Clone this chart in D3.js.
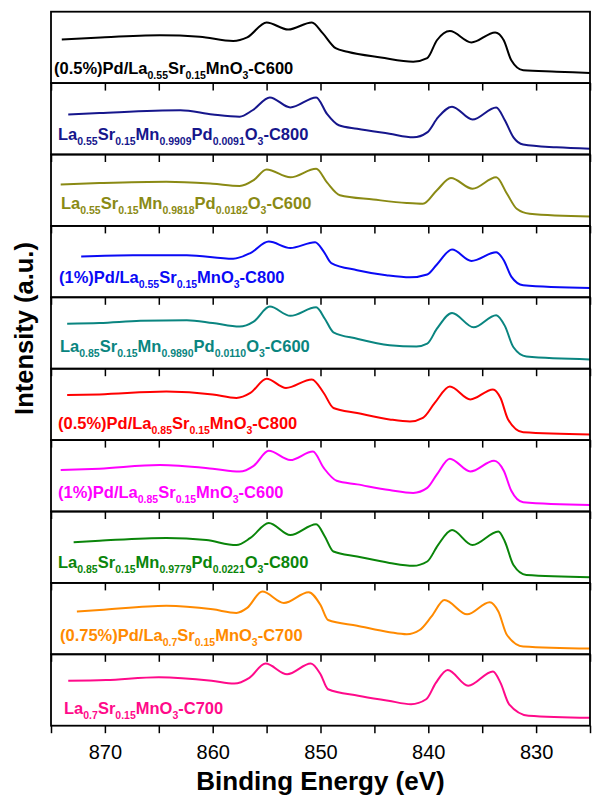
<!DOCTYPE html>
<html><head><meta charset="utf-8">
<script src="https://cdn.jsdelivr.net/npm/d3@7"></script>
<style>body{margin:0;background:#fff;} svg{display:block;}</style>
</head><body><svg id="c" width="592" height="798"></svg>
<script>
// ---------- data ----------
const xDomain = [875, 825];
const tickLabels = [870, 860, 850, 840, 830];
const xTitle = "Binding Energy (eV)";
const yTitle = "Intensity (a.u.)";

const labels = [
  "(0.5%)Pd/La_{0.55}Sr_{0.15}MnO_{3}-C600",
  "La_{0.55}Sr_{0.15}Mn_{0.9909}Pd_{0.0091}O_{3}-C800",
  "La_{0.55}Sr_{0.15}Mn_{0.9818}Pd_{0.0182}O_{3}-C600",
  "(1%)Pd/La_{0.55}Sr_{0.15}MnO_{3}-C800",
  "La_{0.85}Sr_{0.15}Mn_{0.9890}Pd_{0.0110}O_{3}-C600",
  "(0.5%)Pd/La_{0.85}Sr_{0.15}MnO_{3}-C800",
  "(1%)Pd/La_{0.85}Sr_{0.15}MnO_{3}-C600",
  "La_{0.85}Sr_{0.15}Mn_{0.9779}Pd_{0.0221}O_{3}-C800",
  "(0.75%)Pd/La_{0.7}Sr_{0.15}MnO_{3}-C700",
  "La_{0.7}Sr_{0.15}MnO_{3}-C700"
];

// [binding energy (eV), intensity (a.u., 0-100 within panel)]
const s1 = [[874,61],[870.4,64],[864.9,67],[861.2,65],[858.1,59],[856.8,64],[855,85],[853,75],[850.8,85],[849.8,70],[848.6,49],[847.5,44],[844.4,36],[841.4,30],[840.1,35],[839.2,60],[838,73],[836,57],[833.8,71],[833,60],[832.3,32],[831.2,18],[828.1,16],[825,14]];
const s2 = [[873.4,56],[870.5,58],[863,62],[860,56],[857.5,53],[856.3,62],[854.7,80],[852.8,66],[850.4,80],[849.4,57],[848.3,41],[846.6,36],[843.6,29],[841.4,24],[840.1,31],[839.1,52],[837.8,67],[835.9,49],[833.7,66],[832.9,48],[832.1,24],[831.2,14],[828.1,10],[825,8]];
const s3 = [[874.1,58],[870.5,60],[864.3,62],[860,59],[857.5,56],[856.2,64],[855,79],[852.8,68],[850.4,80],[849.4,61],[848.2,43],[845.1,37],[842,32],[840.5,31],[839.2,50],[837.9,67],[835.9,52],[833.7,68],[832.7,45],[831.8,24],[830.6,17],[825,13]];
const s4 = [[872.2,57],[867.4,59],[862.4,59],[858.1,54],[856.5,62],[854.8,78],[852.8,69],[850.5,77],[849.7,64],[849,48],[846.6,38],[843.9,31],[841.7,28],[840.1,32],[839.2,46],[837.8,67],[836,51],[833.7,63],[833,52],[832.3,29],[831.2,17],[825,13]];
const s5 = [[873.5,63],[870.5,64],[866.7,67],[862.4,68],[860,64],[857.5,59],[856.2,66],[854.7,87],[852.8,74],[850.4,86],[849.6,70],[848.8,51],[846.6,42],[843.6,33],[841.1,31],[840.1,35],[839.2,56],[837.8,78],[835.8,58],[833.7,75],[832.9,60],[832.1,30],[830.9,17],[825,13]];
const s6 = [[873.5,63],[870.5,64],[864.3,68],[860,64],[857.8,59],[856.5,66],[855,86],[853.2,73],[850.8,85],[849.7,66],[848.8,45],[846.6,38],[843.6,29],[841.7,26],[840.5,31],[839.4,52],[838,75],[836.1,57],[834,71],[833.3,59],[832.6,29],[831.2,11],[825,8]];
const s7 = [[874.1,58],[870.5,60],[864.9,65],[860,60],[857.5,56],[856.2,64],[854.8,85],[852.8,72],[850.7,84],[849.7,61],[848.5,43],[846.6,38],[843.6,30],[841.4,26],[840.1,33],[839.2,52],[838,74],[836.1,56],[833.9,71],[833,57],[832.3,29],[831.2,13],[825,9]];
const s8 = [[872.9,57],[870.5,59],[864.3,63],[860.6,60],[857.8,53],[856.5,63],[854.8,84],[852.8,67],[850.4,82],[849.6,65],[848.8,44],[846.6,37],[843.6,28],[841.4,24],[840.1,30],[839.1,53],[837.8,74],[835.9,53],[833.5,72],[832.9,58],[832.1,25],[830.9,11],[825,8]];
const s9 = [[872.6,60],[870.5,62],[864.3,68],[860,63],[857.8,58],[856.8,65],[855.4,88],[853.4,72],[851.1,87],[850,69],[849.3,48],[846.6,40],[843.6,31],[842,28],[840.8,34],[839.7,53],[838.5,76],[836.4,56],[834.3,73],[833.5,60],[832.7,27],[831.2,11],[825,8]];
const s10 = [[873.4,63],[869.9,64],[865,68],[860.1,63],[858,59],[856.6,67],[855.1,87],[853.1,72],[850.9,87],[850,72],[849.3,51],[846.5,42],[843.7,35],[841.6,30],[840.2,37],[839.3,60],[838.2,78],[836.3,56],[834,76],[833.3,60],[832.5,30],[830.7,14],[825,11]];
const series = [s1, s2, s3, s4, s5, s6, s7, s8, s9, s10];

// ---------- style / layout ----------
const colors = ["#000000","#16168c","#8a8a14","#0a0af5","#0a8580","#ff0000","#ff00ff","#0a850a","#ff8a00","#ff0a8a"];
const labelX = [54, 58, 61, 59, 60, 58, 58, 58, 60, 64];
const labelBase = [62.3, 57.3, 54, 57.3, 55, 60.6, 57.7, 56.7, 58.5, 59.4];
const W = 592, H = 798, L = 51, R = 590, T = 11.7, B = 725.7;
const n = series.length, ph = (B - T) / n;
const FONT = "'Liberation Sans', Arial, Helvetica, sans-serif";

const svg = d3.select("#c");
svg.append("rect").attr("width", W).attr("height", H).attr("fill", "#fff");
const x = d3.scaleLinear().domain(xDomain).range([L, R]);
const tickVals = d3.range(xDomain[0], xDomain[1] - 1, -5);

const defs = svg.append("defs");

series.forEach((d, i) => {
  const y0 = T + i * ph;
  const y = d3.scaleLinear().domain([0, 100]).range([y0 + ph, y0]);
  const g = svg.append("g");
  defs.append("clipPath").attr("id", "cp" + i)
    .append("rect").attr("x", L).attr("y", y0).attr("width", R - L).attr("height", ph);

  g.append("path").datum(d)
    .attr("clip-path", "url(#cp" + i + ")")
    .attr("d", d3.line().x(p => x(p[0])).y(p => y(p[1])).curve(d3.curveMonotoneX))
    .attr("fill", "none").attr("stroke", colors[i]).attr("stroke-width", 2)
    .attr("stroke-linejoin", "round");

  // label with subscripts
  const t = g.append("text").attr("x", labelX[i]).attr("y", y0 + labelBase[i])
    .attr("fill", colors[i]).attr("font-family", FONT).attr("font-weight", "bold");
  const parts = labels[i].split(/(_\{[^}]*\})/).filter(s => s.length);
  let shift = 0;
  parts.forEach(p => {
    const sub = p.startsWith("_{");
    const txt = sub ? p.slice(2, -1) : p;
    const target = sub ? 5 : 0;
    t.append("tspan").attr("font-size", sub ? 10.5 : 16.5)
      .attr("dy", target - shift).text(txt);
    shift = target;
  });

  // frame
  g.append("rect").attr("x", L).attr("y", y0).attr("width", R - L).attr("height", ph)
    .attr("fill", "none").attr("stroke", "#000").attr("stroke-width", 1.8);

  // bottom axis ticks of this panel
  const last = i === n - 1;
  const ax = d3.axisBottom(x).tickValues(tickVals).tickSize(7.5).tickSizeOuter(0).tickPadding(12)
    .tickFormat(v => (last && tickLabels.includes(v)) ? String(v) : "");
  const ag = svg.append("g").attr("transform", `translate(0,${y0 + ph})`).call(ax);
  ag.select(".domain").remove();
  ag.selectAll(".tick line").attr("stroke", "#000").attr("stroke-width", 1.5);
  ag.selectAll(".tick text").attr("font-family", FONT).attr("font-size", 20).attr("fill", "#000");
});

svg.append("text").attr("x", (L + R) / 2).attr("y", 790).attr("text-anchor", "middle")
  .attr("font-family", FONT).attr("font-weight", "bold").attr("font-size", 26).text(xTitle);
svg.append("text").attr("transform", "translate(32.5,328.5) rotate(-90)").attr("text-anchor", "middle")
  .attr("font-family", FONT).attr("font-weight", "bold").attr("font-size", 25.5).text(yTitle);
</script></body></html>
